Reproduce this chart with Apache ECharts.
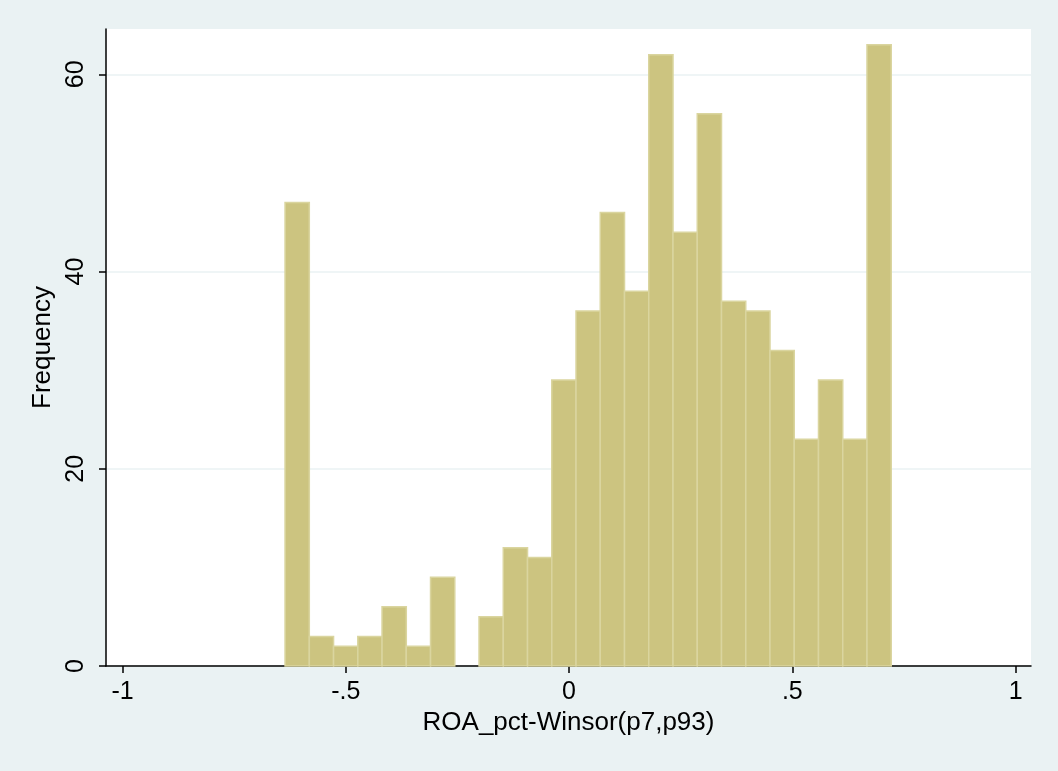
<!DOCTYPE html>
<html>
<head>
<meta charset="utf-8">
<script src="https://cdn.jsdelivr.net/npm/echarts@6/dist/echarts.min.js"></script>
<style>
html,body{margin:0;padding:0;background:#EAF2F3;}
#chart{width:1058px;height:771px;}
</style>
</head>
<body>
<div id="chart"></div>
<script>
// Histogram data
const binStart = -0.636;
const binWidth = 0.0543;
const counts = [47, 3, 2, 3, 6, 2, 9, 0, 5, 12, 11, 29, 36, 46, 38, 62, 44, 56, 37, 36, 32, 23, 29, 23, 63];
const xTicks = [-1, -0.5, 0, 0.5, 1];
const xTickLabels = ['-1', '-.5', '0', '.5', '1'];
const yTicks = [0, 20, 40, 60];
const xTitle = 'ROA_pct-Winsor(p7,p93)';
const yTitle = 'Frequency';

const bins = counts.map((c, i) => [binStart + i * binWidth, binStart + (i + 1) * binWidth, c]);

const font = 'Liberation Sans, Arial, sans-serif';
const chart = echarts.init(document.getElementById('chart'));
chart.setOption({
  backgroundColor: '#EAF2F3',
  animation: false,
  grid: {left: 106, right: 27, top: 29, bottom: 105, show: true, backgroundColor: '#ffffff', borderWidth: 0},
  xAxis: {
    type: 'value', min: -1.037, max: 1.0345,
    name: xTitle, nameLocation: 'middle', nameGap: 42,
    nameTextStyle: {fontFamily: font, fontSize: 26, color: '#000'},
    axisLine: {show: true, onZero: false, lineStyle: {color: '#000', width: 1.5}},
    axisTick: {show: true, customValues: xTicks, length: 7, lineStyle: {color: '#000', width: 1.5}},
    axisLabel: {customValues: xTicks, fontFamily: font, fontSize: 25, color: '#000', margin: 14,
      formatter: v => xTickLabels[xTicks.indexOf(v)] ?? ''},
    splitLine: {show: false}
  },
  yAxis: {
    type: 'value', min: 0, max: 64.6,
    name: yTitle, nameLocation: 'middle', nameGap: 42, nameRotate: 90,
    nameTextStyle: {fontFamily: font, fontSize: 26, color: '#000'},
    axisLine: {show: true, onZero: false, lineStyle: {color: '#000', width: 1.5}},
    axisTick: {show: true, customValues: yTicks, length: 7, lineStyle: {color: '#000', width: 1.5}},
    axisLabel: {customValues: yTicks, rotate: 90, fontFamily: font, fontSize: 25, color: '#000', margin: 17},
    splitLine: {show: true, lineStyle: {color: '#EAF2F3', width: 1.5}}
  },
  series: [{
    type: 'custom',
    data: bins,
    encode: {x: [0, 1], y: 2},
    renderItem: function (params, api) {
      const c = api.value(2);
      if (!c) return;
      const p0 = api.coord([api.value(0), c]);
      const p1 = api.coord([api.value(1), 0]);
      return {
        type: 'rect',
        shape: {x: p0[0], y: p0[1], width: p1[0] - p0[0], height: p1[1] - p0[1]},
        style: {fill: '#CCC480', stroke: '#DAD59F', lineWidth: 1.5}
      };
    }
  }]
});
</script>
</body>
</html>
